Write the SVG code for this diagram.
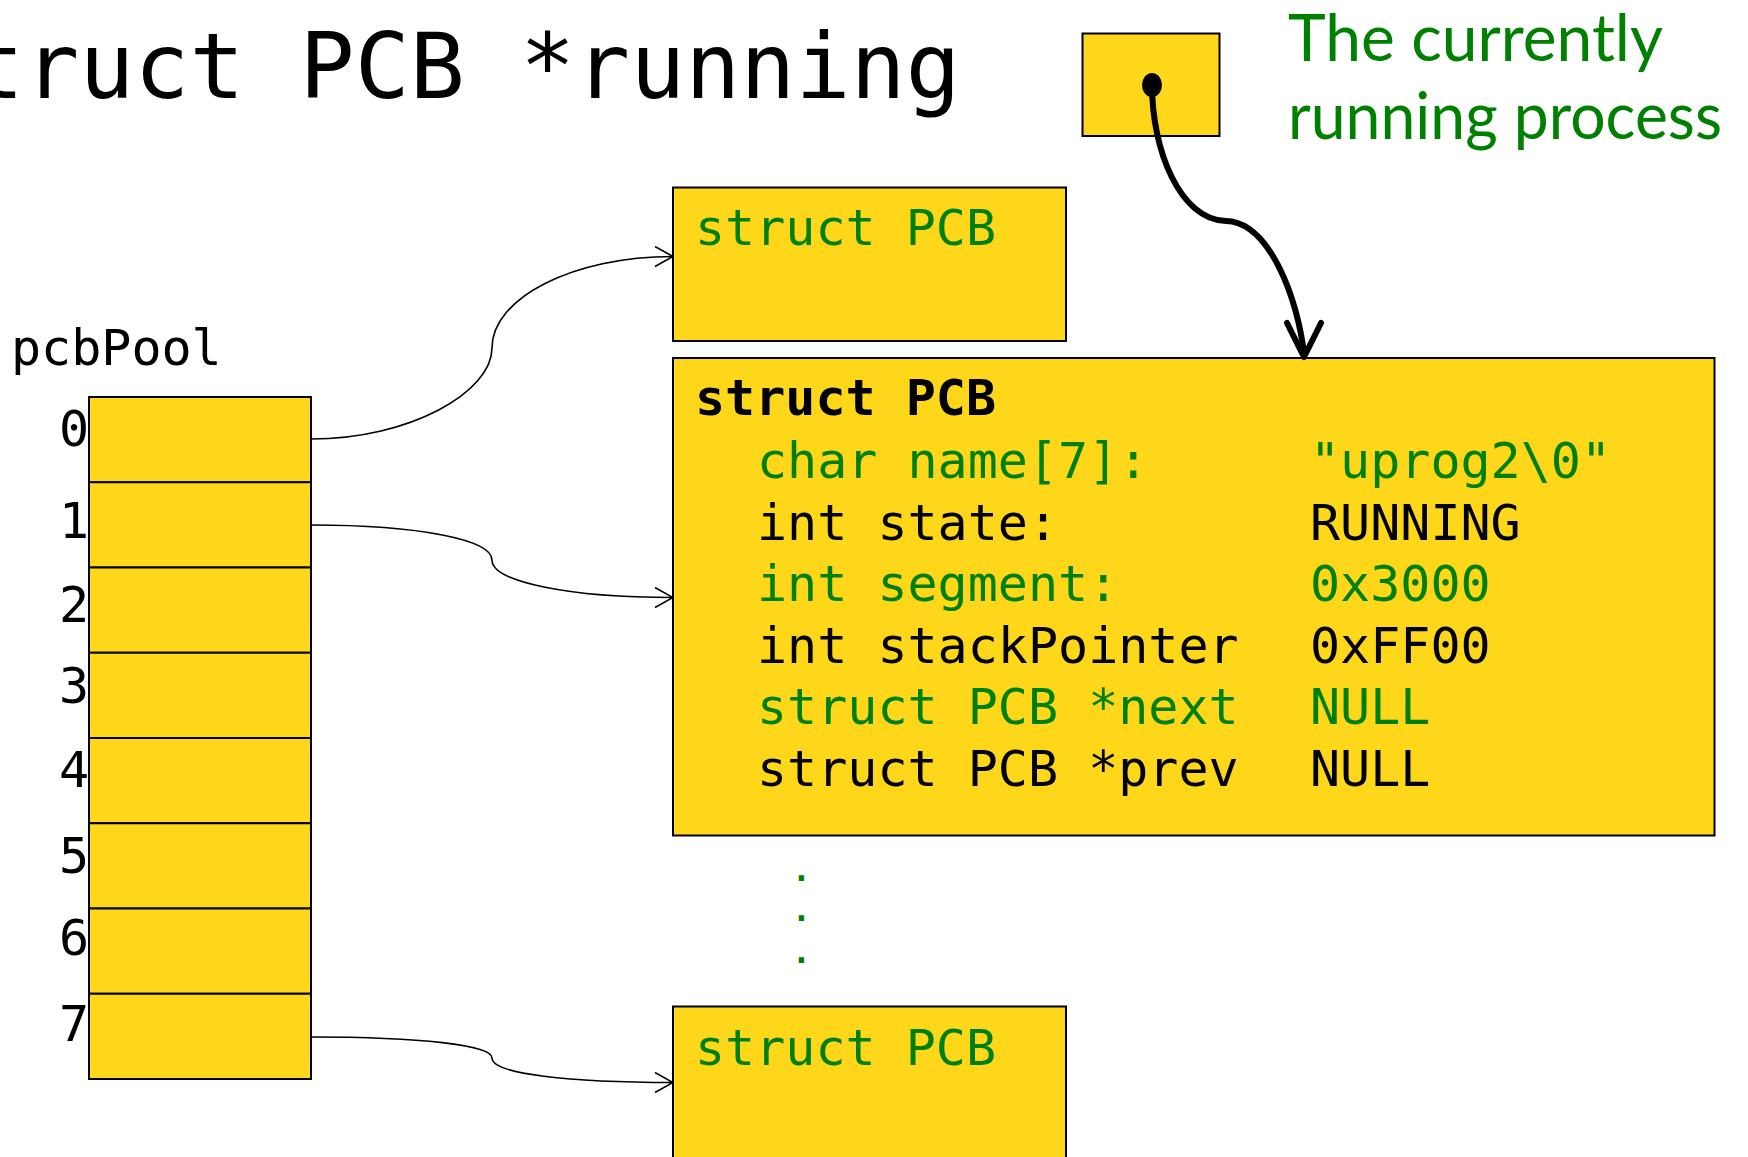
<svg xmlns="http://www.w3.org/2000/svg" width="1748" height="1157" viewBox="0 0 1748 1157">
<style>
.mono{font-family:"DejaVu Sans Mono","Liberation Mono",monospace;font-size:50px}
.box{fill:#FED71A;stroke:#000;stroke-width:2}
.g{fill:#008000}
.k{fill:#000}
.conn{fill:none;stroke:#000;stroke-width:1.6}
.thick{fill:none;stroke:#000;stroke-width:6;stroke-linecap:round;stroke-linejoin:round}
.note{font-family:Lato,"Open Sans","Noto Sans",sans-serif;font-size:65px;fill:#008000}
.dot{font-family:"DejaVu Sans Mono","Liberation Mono",monospace;font-size:32px;font-weight:bold;fill:#008000}
</style>
<defs>
<marker id="open" markerUnits="userSpaceOnUse" viewBox="0 0 20 22" refX="19" refY="11" markerWidth="20" markerHeight="22" orient="auto">
<path d="M1,1 L19,11 L1,21" fill="none" stroke="#000" stroke-width="1.6"/>
</marker>
</defs>

<g id="title">
<text class="mono k" x="-86" y="98" style="font-size:91.5px">struct PCB *running</text>
</g>

<g id="running">
<rect class="box" x="1082.5" y="33.5" width="137" height="102.5"/>
<ellipse cx="1152" cy="85" rx="10" ry="12" fill="#000"/>
</g>

<g id="note">
<text class="note" x="1288" y="61" textLength="375" lengthAdjust="spacingAndGlyphs">The currently</text>
<text class="note" x="1288" y="139" textLength="434" lengthAdjust="spacingAndGlyphs">running process</text>
</g>

<g id="pcbPool">
<text class="mono k" x="11" y="365">pcbPool</text>
<rect class="box" x="89" y="397" width="222" height="85.25"/>
<rect class="box" x="89" y="482.25" width="222" height="85.25"/>
<rect class="box" x="89" y="567.5" width="222" height="85.25"/>
<rect class="box" x="89" y="652.75" width="222" height="85.25"/>
<rect class="box" x="89" y="738" width="222" height="85.25"/>
<rect class="box" x="89" y="823.25" width="222" height="85.25"/>
<rect class="box" x="89" y="908.5" width="222" height="85.25"/>
<rect class="box" x="89" y="993.75" width="222" height="85.25"/>
<g class="mono k" text-anchor="end">
<text x="89" y="446">0</text>
<text x="89" y="538">1</text>
<text x="89" y="622">2</text>
<text x="89" y="703">3</text>
<text x="89" y="787">4</text>
<text x="89" y="873">5</text>
<text x="89" y="955">6</text>
<text x="89" y="1041">7</text>
</g>
</g>

<g id="pcbTop">
<rect class="box" x="673" y="187.5" width="393" height="153.5"/>
<text class="mono g" x="695" y="245">struct PCB</text>
</g>

<g id="pcbRunning">
<rect class="box" x="673" y="358" width="1041.5" height="477.5"/>
<text class="mono k" x="695" y="415" font-weight="bold">struct PCB</text>
<text class="mono g" x="757" y="478">char name[7]:</text>
<text class="mono g" x="1310" y="478">"uprog2\0"</text>
<text class="mono k" x="757" y="540">int state:</text>
<text class="mono k" x="1310" y="540">RUNNING</text>
<text class="mono g" x="757" y="601">int segment:</text>
<text class="mono g" x="1310" y="601">0x3000</text>
<text class="mono k" x="757" y="663">int stackPointer</text>
<text class="mono k" x="1310" y="663">0xFF00</text>
<text class="mono g" x="757" y="724">struct PCB *next</text>
<text class="mono g" x="1310" y="724">NULL</text>
<text class="mono k" x="757" y="786">struct PCB *prev</text>
<text class="mono k" x="1310" y="786">NULL</text>
</g>

<g id="ellipsis">
<text class="dot" text-anchor="middle"><tspan x="801.5" y="881">.</tspan><tspan x="801.5" y="921">.</tspan><tspan x="801.5" y="963">.</tspan></text>
</g>

<g id="pcbBottom">
<rect class="box" x="673" y="1006.5" width="393" height="170"/>
<text class="mono g" x="695" y="1065">struct PCB</text>
</g>

<g id="connectors">
<path class="conn" marker-end="url(#open)" d="M311,439 C410,439 492,392 492,348 C492,298 573,256.5 673,256.5"/>
<path class="conn" marker-end="url(#open)" d="M311,525 C420,525 492,540 492,560 C492,582 570,597.5 673,597.5"/>
<path class="conn" marker-end="url(#open)" d="M311,1037 C420,1037 492,1045 492,1058 C492,1074 570,1082.5 673,1082.5"/>
<path class="thick" d="M1152,85 C1152,150 1180,220 1226,221 C1270,222 1298,300 1304,354"/>
<path class="thick" d="M1287,323 L1304,357 L1321,323"/>
</g>
</svg>
